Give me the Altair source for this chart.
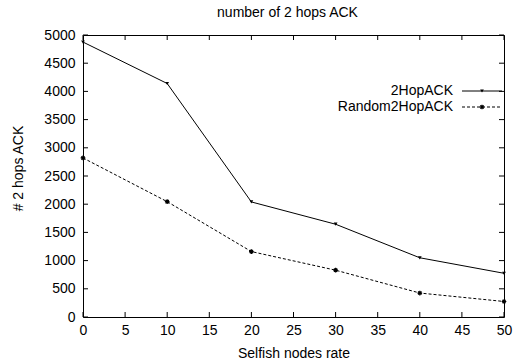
import altair as alt
import pandas as pd

rates = [0, 10, 20, 30, 40, 50]
hop_ack = [4875, 4140, 2040, 1645, 1050, 775]
random_hop_ack = [2820, 2045, 1160, 830, 425, 275]
series_names = ["2HopACK", "Random2HopACK"]
x_ticks = [0, 5, 10, 15, 20, 25, 30, 35, 40, 45, 50]
y_ticks = [0, 500, 1000, 1500, 2000, 2500, 3000, 3500, 4000, 4500, 5000]

W, H = 421, 282
FONT = "Liberation Sans"

df = pd.DataFrame({
    "rate": rates * 2,
    "value": hop_ack + random_hop_ack,
    "series": [series_names[0]] * len(rates) + [series_names[1]] * len(rates),
})

xs = alt.Scale(domain=[0, 50], nice=False, zero=False)
ys = alt.Scale(domain=[0, 5000], nice=False)

x_axis = alt.Axis(values=x_ticks, title="Selfish nodes rate", grid=False, domain=False,
                  ticks=False, labelPadding=6, labelFontSize=14, titleFontSize=14,
                  titleFontWeight="normal", titlePadding=9, labelFont=FONT, titleFont=FONT,
                  labelColor="black", titleColor="black", format="d", labelFlush=False,
                  labelOverlap=False)
y_axis = alt.Axis(values=y_ticks, title="# 2 hops ACK", grid=False, domain=False,
                  ticks=False, labelPadding=8, labelFontSize=14, titleFontSize=14,
                  titleFontWeight="normal", labelFont=FONT, titleFont=FONT,
                  labelColor="black", titleColor="black", titleX=-58, titleY=133, format="d",
                  labelFlush=False, labelOverlap=False)


def X(field):
    return alt.X(field, scale=xs, axis=x_axis)


def Y(field):
    return alt.Y(field, scale=ys, axis=y_axis)


s1 = df[df.series == series_names[0]]
s2 = df[df.series == series_names[1]]

line1 = alt.Chart(s1).mark_line(color="black", strokeWidth=1).encode(
    x=X("rate:Q"), y=Y("value:Q"))
pts1 = alt.Chart(s1).mark_point(shape="triangle-down", filled=True, color="black", size=14, opacity=1).encode(
    x=X("rate:Q"), y=Y("value:Q"))
line2 = alt.Chart(s2).mark_line(color="black", strokeWidth=1, strokeDash=[3, 2]).encode(
    x=X("rate:Q"), y=Y("value:Q"))
star = "M-1,0L1,0M0,-1L0,1M-0.7,-0.7L0.7,0.7M-0.7,0.7L0.7,-0.7"
pts2 = alt.Chart(s2).mark_point(shape=star, color="black", size=22, strokeWidth=1.2, opacity=1).encode(
    x=X("rate:Q"), y=Y("value:Q"))

xt = pd.DataFrame({"rate": x_ticks})
yt = pd.DataFrame({"value": y_ticks})
TL = 5
tick_bottom = alt.Chart(xt).mark_rule(color="black", strokeWidth=1).encode(
    x=X("rate:Q"), y=alt.value(H), y2=alt.value(H - TL))
tick_top = alt.Chart(xt).mark_rule(color="black", strokeWidth=1).encode(
    x=X("rate:Q"), y=alt.value(0), y2=alt.value(TL))
tick_left = alt.Chart(yt).mark_rule(color="black", strokeWidth=1).encode(
    y=Y("value:Q"), x=alt.value(0), x2=alt.value(TL))
tick_right = alt.Chart(yt).mark_rule(color="black", strokeWidth=1).encode(
    y=Y("value:Q"), x=alt.value(W), x2=alt.value(W - TL))

leg1 = pd.DataFrame({"name": [series_names[0]]})
leg2 = pd.DataFrame({"name": [series_names[1]]})
LY1, LY2 = 56, 72
leg_text1 = alt.Chart(leg1).mark_text(align="right", baseline="middle", fontSize=14, font=FONT,
                                      color="black").encode(
    text="name:N", x=alt.value(370), y=alt.value(LY1))
leg_text2 = alt.Chart(leg2).mark_text(align="right", baseline="middle", fontSize=14, font=FONT,
                                      color="black").encode(
    text="name:N", x=alt.value(370), y=alt.value(LY2))
leg_line1 = alt.Chart(leg1).mark_rule(color="black", strokeWidth=1).encode(
    x=alt.value(379), x2=alt.value(419), y=alt.value(LY1))
leg_pt1 = alt.Chart(leg1).mark_point(shape="triangle-down", filled=True, color="black", size=14, opacity=1).encode(
    x=alt.value(399), y=alt.value(LY1))
leg_line2 = alt.Chart(leg2).mark_rule(color="black", strokeWidth=1, strokeDash=[3, 2]).encode(
    x=alt.value(379), x2=alt.value(419), y=alt.value(LY2))
leg_pt2 = alt.Chart(leg2).mark_point(shape=star, color="black", size=22, strokeWidth=1.2, opacity=1).encode(
    x=alt.value(399), y=alt.value(LY2))

chart = alt.layer(
    line1, line2, pts1, pts2, tick_bottom, tick_top, tick_left, tick_right,
    leg_text1, leg_text2, leg_line1, leg_pt1, leg_line2, leg_pt2,
).properties(
    width=W, height=H,
    background="white",
    title=alt.Title("number of 2 hops ACK", fontSize=14, fontWeight="normal", font=FONT,
                    color="black", offset=8, dx=-6),
    autosize=alt.AutoSizeParams(type="none"),
    padding={"left": 83, "top": 35, "right": 9, "bottom": 45},
).configure_view(
    stroke="black", strokeWidth=1
)

chart.save("out.html", embed_options={"renderer": "svg", "actions": False})
